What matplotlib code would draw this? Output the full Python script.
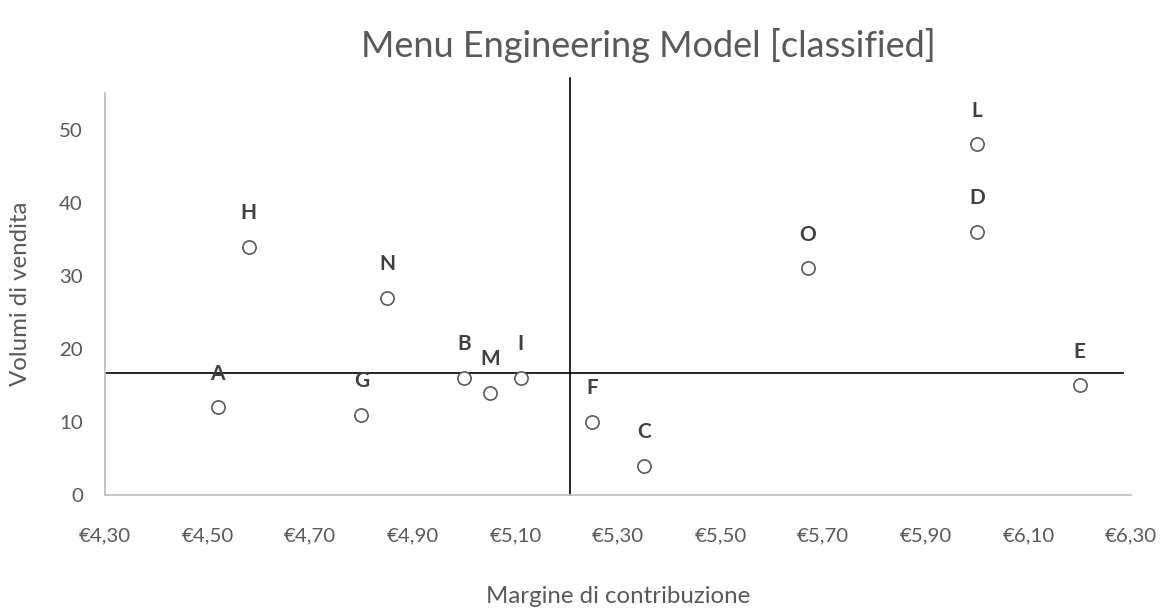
import matplotlib.pyplot as plt
from matplotlib.ticker import FuncFormatter

# menu items: contribution margin (€) and sales volume
items = ['A', 'H', 'G', 'N', 'B', 'M', 'I', 'F', 'C', 'O', 'L', 'D', 'E']
margine = [4.52, 4.58, 4.80, 4.85, 5.00, 5.05, 5.11, 5.25, 5.35, 5.67, 6.00, 6.00, 6.20]
volumi = [12, 34, 11, 27, 16, 14, 16, 10, 4, 31, 48, 36, 15]

# classification thresholds
soglia_margine = 5.206
soglia_volumi = 16.67

plt.rcParams['font.family'] = ['Lato', 'DejaVu Sans']

fig = plt.figure(figsize=(11.69, 6.10), dpi=100)
ax = fig.add_axes([0.0898, 0.1885, 0.8777, 0.659])

ax.plot(margine, volumi, 'o', markersize=9.5, markerfacecolor='white',
        markeredgecolor='#595959', markeredgewidth=1.2, zorder=3)

for name, x, y in zip(items, margine, volumi):
    ax.annotate(name, (x, y), xytext=(0, 17), textcoords='offset points',
                ha='center', va='bottom', fontsize=15, fontweight='bold', color='#404040')

# quadrant lines
ax.plot([4.30, 6.285], [soglia_volumi, soglia_volumi], color='black', linewidth=1.2, zorder=2)
ax.plot([soglia_margine, soglia_margine], [0, 57.1], color='black', linewidth=1.2,
        zorder=2, clip_on=False)

ax.set_xlim(4.30, 6.30)
ax.set_ylim(0, 55)
ax.set_xticks([4.30, 4.50, 4.70, 4.90, 5.10, 5.30, 5.50, 5.70, 5.90, 6.10, 6.30])
ax.set_yticks([0, 10, 20, 30, 40, 50])
ax.xaxis.set_major_formatter(FuncFormatter(lambda v, p: '€' + f'{v:.2f}'.replace('.', ',')))

for s in ['top', 'right']:
    ax.spines[s].set_visible(False)
for s in ['left', 'bottom']:
    ax.spines[s].set_color('#BFBFBF')
    ax.spines[s].set_linewidth(1.3)

ax.tick_params(length=0, labelsize=14.7, labelcolor='#595959')
ax.tick_params(axis='x', pad=23)
ax.tick_params(axis='y', pad=16)

ax.set_xlabel('Margine di contribuzione', fontsize=17.3, color='#595959', labelpad=30)
ax.set_ylabel('Volumi di vendita', fontsize=17.3, color='#595959', labelpad=20)

fig.text(0.555, 0.925, 'Menu Engineering Model [classified]', ha='center', va='center',
         fontsize=26, color='#595959')

fig.savefig('out.png', dpi=100)
